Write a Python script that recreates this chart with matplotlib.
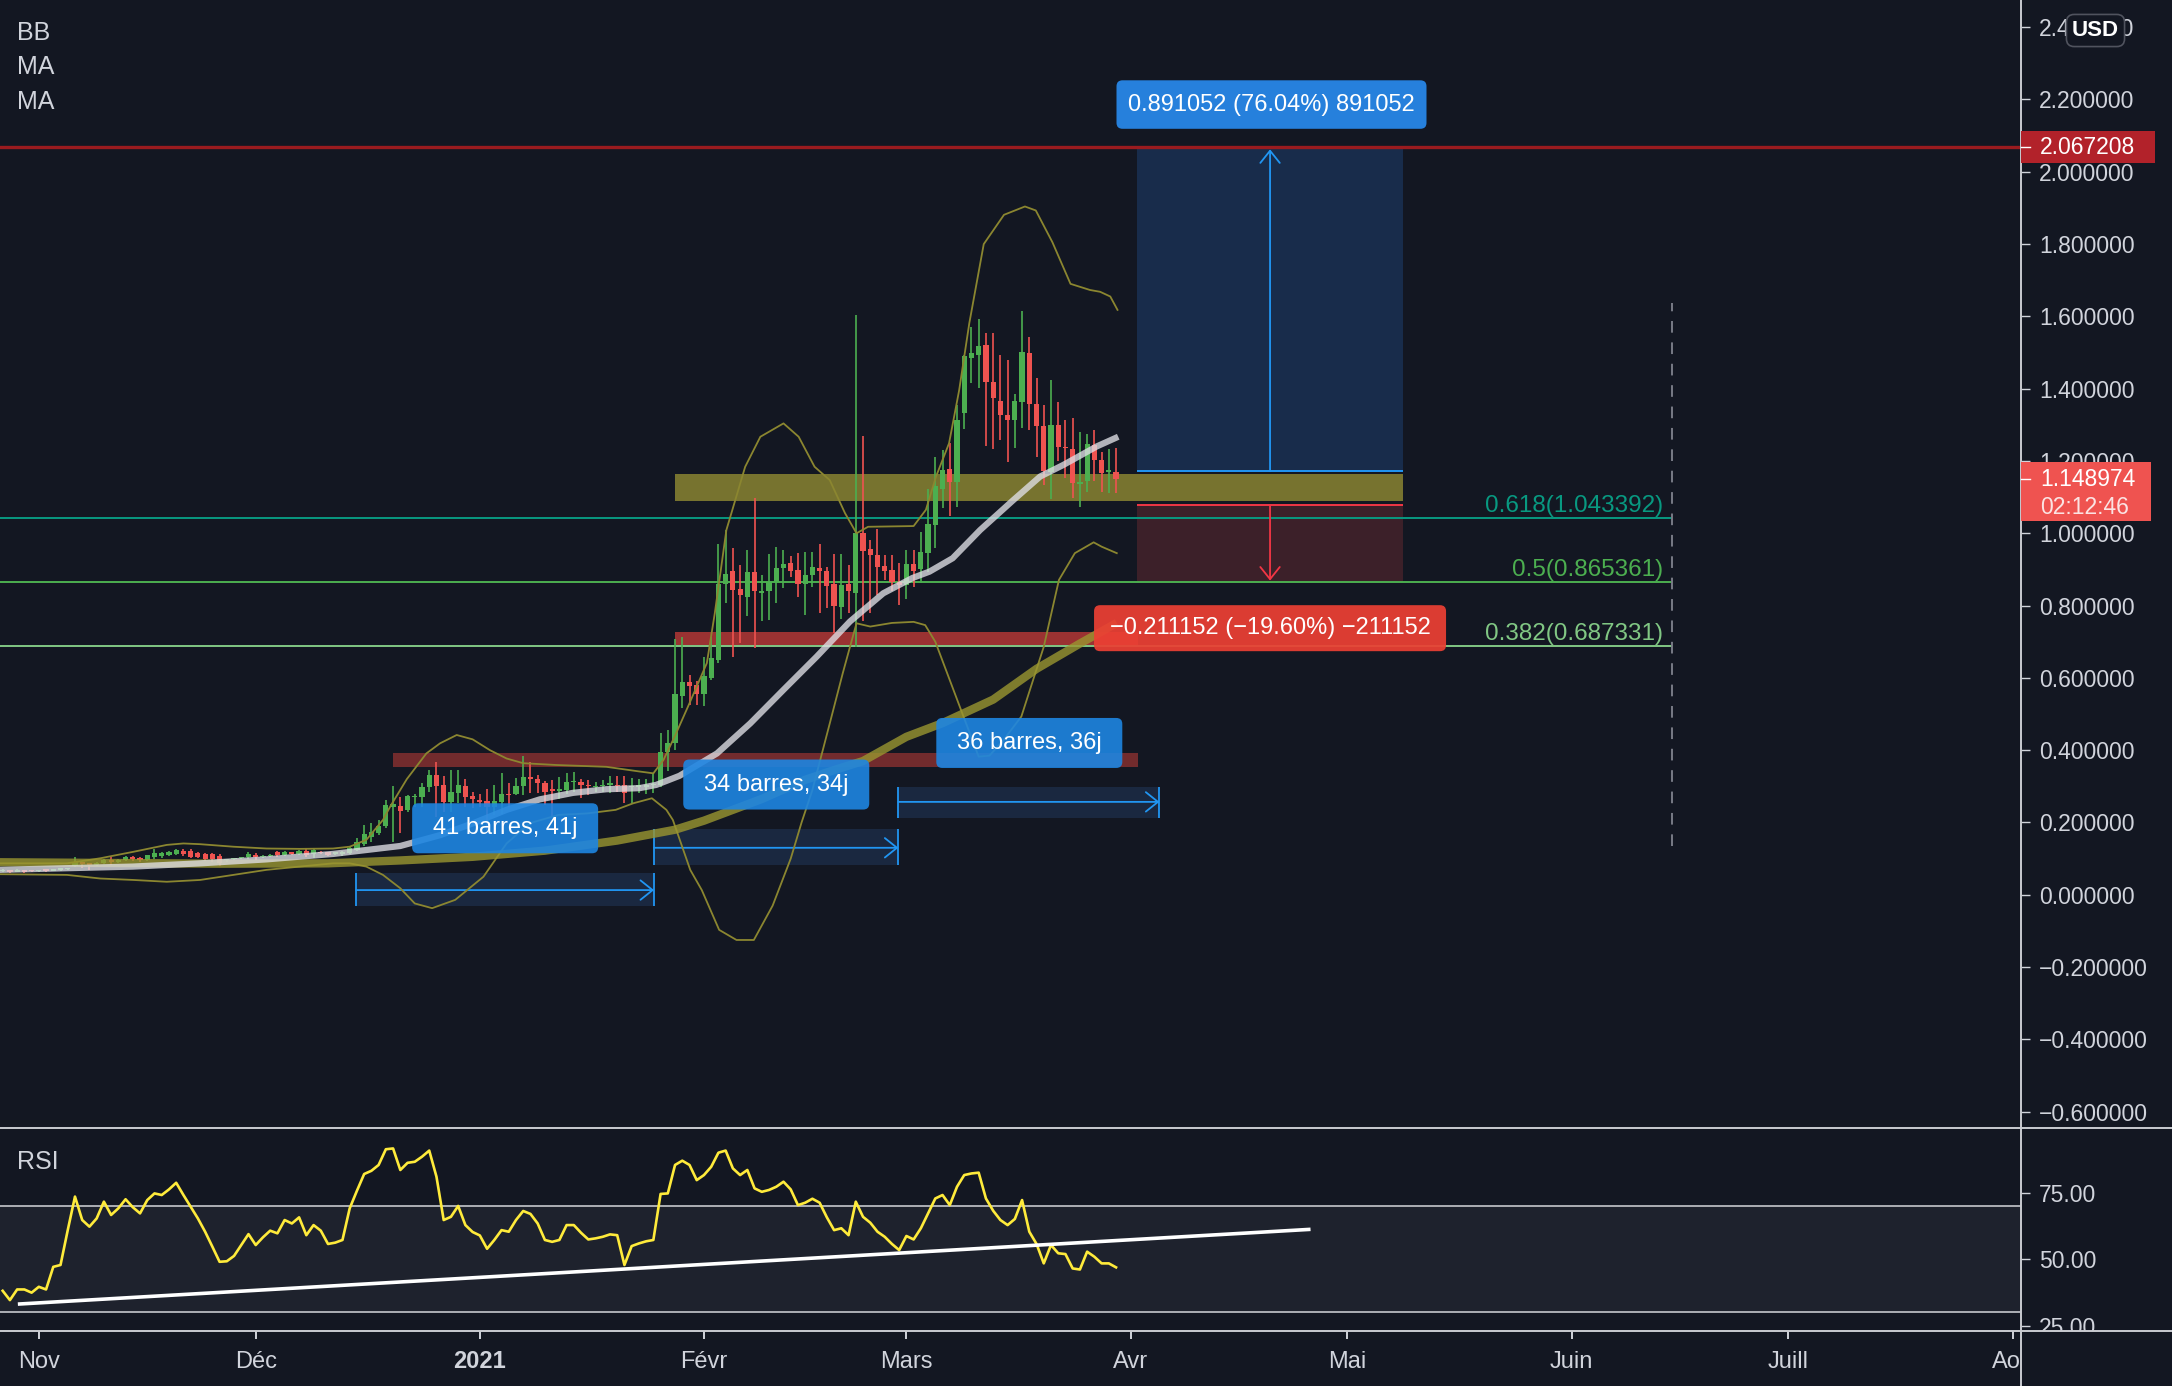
import numpy as np
import matplotlib
matplotlib.use("Agg")
import matplotlib.pyplot as plt
from matplotlib.patches import Rectangle, FancyBboxPatch
from matplotlib.lines import Line2D
from matplotlib.transforms import blended_transform_factory

plt.rcParams['font.family'] = ['Liberation Sans', 'DejaVu Sans']

# ---------------- data ----------------
# x = day index, 0 = 1 Nov 2020 ; first candle = 27 Oct 2020
first_day = -5
opens = [.065,.067,.064,.067,.066,.065,.068,.066,.069,.070,
         .080,.090,.086,.083,.088,.096,.092,.096,.104,.101,
         .096,.104,.107,.110,.113,.122,.122,.116,.113,.113,
         .107,.095,.098,.101,.105,.110,.104,.107,.117,.110,
         .116,.113,.122,.113,.119,.117,.113,.112,.116,.125,
         .140,.160,.171,.191,.244,.246,.235,.270,.270,.299,
         .331,.304,.258,.281,.301,.273,.259,.259,.242,.258,
         .279,.279,.301,.325,.320,.310,.290,.288,.290,.311,
         .313,.304,.297,.301,.304,.304,.304,.297,.299,.299,
         .303,.304,.396,.420,.550,.588,.580,.555,.599,.649,
         .860,.896,.846,.825,.892,.834,.841,.866,.905,.917,
         .898,.860,.885,.905,.897,.860,.797,.860,.836,1.000,
         .957,.940,.910,.899,.866,.857,.915,.900,.946,1.022,
         1.122,1.177,1.143,1.334,1.486,1.493,1.521,1.419,1.366,1.327,
         1.312,1.364,1.500,1.358,1.298,1.170,1.300,1.240,1.232,1.136,
         1.146,1.244,1.203,1.170,1.169]
highs = [.071,.069,.070,.069,.068,.069,.070,.071,.073,.075,
         .105,.092,.089,.091,.099,.104,.098,.107,.107,.105,
         .111,.126,.119,.122,.126,.126,.126,.119,.116,.115,
         .112,.100,.103,.105,.117,.115,.109,.112,.122,.122,
         .118,.124,.126,.128,.121,.119,.119,.122,.133,.156,
         .193,.198,.207,.262,.301,.271,.276,.279,.308,.345,
         .366,.329,.345,.345,.319,.283,.279,.294,.304,.336,
         .308,.322,.384,.366,.331,.316,.318,.325,.336,.341,
         .319,.318,.313,.318,.329,.329,.329,.322,.319,.319,
         .336,.447,.456,.707,.712,.608,.592,.657,.714,.970,
         1.009,.958,.912,.954,1.097,.885,.943,.963,.954,.937,
         .945,.947,.947,.969,.908,.943,.943,.912,1.605,1.269,
         .981,1.011,.940,.940,.917,.954,.954,1.004,1.122,1.212,
         1.230,1.249,1.355,1.493,1.572,1.592,1.555,1.553,1.493,1.478,
         1.385,1.615,1.544,1.429,1.355,1.424,1.362,1.313,1.318,1.279,
         1.275,1.286,1.226,1.232,1.235]
lows = [.062,.061,.062,.061,.062,.063,.063,.065,.067,.068,
        .078,.074,.069,.080,.085,.082,.089,.094,.094,.092,
        .094,.098,.101,.107,.110,.107,.101,.101,.094,.092,
        .081,.092,.096,.099,.098,.096,.101,.105,.105,.107,
        .110,.110,.105,.103,.112,.108,.111,.108,.112,.122,
        .135,.147,.165,.186,.147,.170,.230,.242,.242,.285,
        .216,.230,.230,.253,.244,.239,.242,.179,.221,.223,
        .242,.276,.276,.281,.281,.248,.216,.264,.279,.285,
        .267,.276,.285,.285,.281,.285,.255,.253,.281,.279,
        .281,.299,.343,.400,.516,.525,.525,.523,.594,.640,
        .806,.659,.697,.771,.682,.756,.760,.806,.848,.880,
        .823,.774,.852,.780,.792,.723,.762,.779,.686,.756,
        .779,.829,.871,.839,.802,.817,.852,.862,.894,.960,
        1.069,1.048,1.072,1.288,1.415,1.403,1.242,1.232,1.258,1.198,
        1.235,1.290,1.286,1.212,1.134,1.094,1.201,1.152,1.097,1.072,
        1.115,1.146,1.115,1.111,1.111]
closes = [.068,.064,.067,.064,.065,.067,.066,.069,.070,.073,
          .090,.085,.083,.089,.096,.092,.096,.104,.098,.096,
          .110,.116,.116,.119,.124,.113,.105,.104,.098,.098,
          .087,.098,.101,.103,.112,.104,.107,.110,.110,.119,
          .113,.122,.110,.124,.115,.110,.117,.119,.129,.147,
          .169,.175,.191,.248,.250,.233,.273,.273,.299,.331,
          .301,.258,.283,.304,.271,.264,.257,.242,.259,.279,
          .276,.301,.325,.319,.308,.285,.288,.292,.313,.313,
          .304,.301,.299,.304,.306,.301,.281,.299,.301,.301,
          .306,.396,.420,.555,.588,.578,.555,.605,.654,.860,
          .887,.843,.829,.892,.841,.840,.866,.905,.915,.897,
          .860,.885,.906,.897,.854,.800,.857,.841,1.000,.952,
          .940,.908,.897,.866,.857,.915,.897,.949,1.026,1.131,
          1.175,1.143,1.312,1.490,1.498,1.518,1.419,1.373,1.327,1.312,
          1.366,1.502,1.357,1.298,1.171,1.300,1.240,1.235,1.138,1.141,
          1.247,1.203,1.168,1.172,1.149]
rsi = [38.1,34.6,38.6,38.6,37.4,
       39.6,38.6,47.1,47.8,60.9,73.5,64.7,62.2,65.3,71.6,
       66.6,69.1,72.5,69.5,67.2,72.2,74.7,74.1,76.2,78.7,
       74.1,69.7,65.3,60.3,54.7,49.0,49.2,51.2,55.3,59.4,
       55.3,58.2,60.7,59.7,64.7,63.4,65.7,59.0,62.8,60.7,
       55.7,56.2,57.2,69.1,75.7,82.0,83.2,85.4,91.3,91.6,
       83.5,86.2,86.6,88.5,90.8,81.0,64.7,65.9,70.0,62.8,
       60.2,58.9,53.9,57.2,60.9,60.3,64.7,68.1,67.0,63.4,
       57.2,56.5,57.2,62.8,62.8,59.9,57.4,57.8,58.4,59.3,
       59.0,47.8,54.9,55.9,56.7,57.2,74.5,74.7,85.4,87.0,
       85.4,79.7,81.6,84.7,90.0,90.8,84.1,81.6,83.5,76.6,
       75.3,76.0,77.2,79.1,76.2,70.3,71.2,72.7,71.2,65.7,
       60.9,61.6,59.0,71.6,65.9,63.7,60.3,58.4,55.7,53.4,
       58.7,57.4,61.6,67.2,72.8,74.1,70.3,77.2,81.6,82.2,
       82.5,72.8,68.2,64.7,62.8,65.1,72.2,60.3,55.7,48.4,
       55.3,52.2,51.9,46.5,46.1,52.8,50.9,48.4,48.4,46.9]

# Bollinger bands
bbu_days = [-5.4,3.9,8.5,13.1,17.7,20,22.3,26.9,31.5,36.1,40.7,43,45.3,47.6,48.6,50.9,53.6,55.5,
            57.8,60,62.4,64.7,67,71.6,78.5,83.1,85,86.4,88,90,92.4,93.5,95.1,97.7,99.8,103,105.1,
            107.3,109.4,111.5,113.1,114.7,121,122.7,124.1,125.9,127.3,128.7,130.7,133.5,136.4,
            137.9,140.2,142.7,145.4,146.8,148.2,149.2]
bbu_vals = [0.087,0.087,0.101,0.119,0.138,0.142,0.140,0.133,0.128,0.127,0.128,0.133,0.152,0.207,
            0.244,0.32,0.391,0.419,0.442,0.43,0.40,0.377,0.364,0.359,0.354,0.341,0.336,0.373,0.44,
            0.53,0.641,0.779,1.009,1.184,1.267,1.304,1.267,1.184,1.147,1.056,1.0,1.018,1.020,1.065,
            1.157,1.249,1.396,1.581,1.80,1.881,1.904,1.893,1.805,1.69,1.673,1.668,1.655,1.618]
bbl_days = [-5.4,3.9,8.5,13.1,17.7,22.3,26.9,31.5,36.1,40.7,43,45.3,47.6,50,52,54.4,57.6,61.5,
            64.7,67.9,71.9,75.8,79.8,82.2,84.8,86.8,87.7,90.1,91.7,94.1,96.5,98.9,101.5,104,105.5,
            107,109.4,111.2,112.2,113.1,115,118,121,122.6,124,125.3,127.9,130,131.5,133.5,135.9,
            139,141.1,143.3,145.9,147,149.1]
bbl_vals = [0.057,0.055,0.045,0.041,0.036,0.041,0.055,0.069,0.078,0.087,0.087,0.078,0.055,0.018,
            -0.024,-0.037,-0.014,0.050,0.142,0.198,0.221,0.225,0.235,0.253,0.267,0.235,0.207,0.069,
            0.013,-0.097,-0.125,-0.125,-0.03,0.10,0.20,0.29,0.474,0.613,0.686,0.751,0.742,0.752,
            0.755,0.746,0.70,0.631,0.493,0.382,0.385,0.43,0.493,0.686,0.871,0.945,0.975,0.963,0.945]
# moving averages
ma1_days = [-5.4,13,22.3,31.5,40.7,50,55.5,60.1,64.7,69.3,73.9,78.5,83.1,85.4,88.6,93.8,98.4,103,
            107.6,112.2,116.8,120.8,123.2,126.4,130.2,134.8,138.5,141.7,146.3,149.3]
ma1_vals = [0.069,0.078,0.087,0.098,0.113,0.135,0.165,0.198,0.235,0.264,0.282,0.292,0.295,0.304,
            0.329,0.391,0.474,0.567,0.659,0.756,0.834,0.876,0.894,0.931,1.009,1.092,1.157,1.189,
            1.240,1.267]
ma2_days = [-5.4,10,25,40,50,60,70,80,88,92,96,100,106,110,114,120,125,132,138,144,149.1]
ma2_vals = [0.090,0.088,0.086,0.087,0.095,0.105,0.122,0.150,0.180,0.205,0.235,0.265,0.318,0.345,
            0.370,0.437,0.475,0.54,0.625,0.695,0.752]

resistance_line = 2.067208
last_price = 1.148974
fib_levels = ['0.618', '0.5', '0.382']
fib_values = [1.043392, 0.865361, 0.687331]
fib_end_day = 225.9
fib_span = [0.134, 1.638]

zone_olive = (88.0, 188.7, 1.090, 1.164)
zone_red1 = (88.0, 152.0, 0.691, 0.728)
zone_red2 = (49.0, 152.0, 0.354, 0.391)

pos_days = (151.9, 188.7)
pos_target, pos_entry_long = 2.0672, 1.1718
pos_entry_stop, pos_stop = 1.0773, 0.8661
pos_target_text = "0.891052 (76.04%) 891052"
pos_stop_text = "\u22120.211152 (\u221219.60%) \u2212211152"

range_starts = [43.9, 85.1, 118.9]
range_ends = [85.1, 118.9, 155.0]
range_bottoms = [-0.0307, 0.0824, 0.212]
range_tops = [0.0613, 0.182, 0.299]
range_arrow_y = [0.013, 0.130, 0.257]
range_texts = ["41 barres, 41j", "34 barres, 34j", "36 barres, 36j"]
range_label_y = [0.184, 0.305, 0.420]
range_label_x = [64.5, 102.0, 137.0]

rsi_trend_days = [-2.9, 175.9]
rsi_trend_vals = [33.1, 61.2]

price_ticks = [-0.6, -0.4, -0.2, 0.0, 0.2, 0.4, 0.6, 0.8, 1.0, 1.2, 1.4, 1.6, 1.8, 2.0, 2.2, 2.4]
rsi_ticks = [25, 50, 75]
month_days = [0, 30, 61, 92, 120, 151, 181, 212, 242, 273]
month_labels = ['Nov', 'Déc', '2021', 'Févr', 'Mars', 'Avr', 'Mai', 'Juin', 'Juill', 'Aoû']

# ---------------- style ----------------
BG = '#131722'
TXT = '#d1d4dc'
GREEN = '#4caf50'
RED = '#ef5350'
BLUE = '#2196f3'
FIB_COLORS = ['#089981', '#4caf50', '#81c784']

W, H = 2172.0, 1386.0
PX, YSEP, YTIME = 2020.5, 1127.7, 1330.7
X0, X1 = -5.37, 274.1

fig = plt.figure(figsize=(W / 100, H / 100), dpi=100, facecolor=BG)
ax = fig.add_axes([0, 1 - YSEP / H, PX / W, YSEP / H])
ax_r = fig.add_axes([0, 1 - YTIME / H, PX / W, (YTIME - YSEP) / H])
for a in (ax, ax_r):
    a.set_facecolor(BG)
    a.set_xlim(X0, X1)
    for s in a.spines.values():
        s.set_visible(False)
    a.tick_params(axis='x', bottom=False, labelbottom=False)
    a.yaxis.tick_right()
    a.tick_params(axis='y', left=False, right=True, direction='out', length=6.5,
                  width=1.0, colors=TXT, labelsize=16.5, pad=7)
ax.set_ylim(-0.6443, 2.4752)
ax_r.set_ylim(23.1, 99.4)

ax.set_yticks(price_ticks)
ax.set_yticklabels([f"{v:.6f}".replace('-', '\u2212') for v in price_ticks])
ax_r.set_yticks(rsi_ticks)
ax_r.set_yticklabels([f"{v:.2f}" for v in rsi_ticks])

p0 = ax.transData.transform((0, 0))
p1 = ax.transData.transform((1, 1))
px_day = p1[0] - p0[0]
px_price = p1[1] - p0[1]


def label_box(a, xc, yc, wpx, hpx, text, fc, alpha=1.0, z=12, fs=17):
    w = wpx / px_day
    h = hpx / px_price
    box = FancyBboxPatch((xc - w / 2, yc - h / 2), w, h,
                         boxstyle=f"round,pad=0,rounding_size={6 / px_day}",
                         mutation_aspect=px_day / px_price,
                         fc=fc, ec='none', alpha=alpha, zorder=z)
    a.add_patch(box)
    a.text(xc, yc, text, ha='center', va='center', color='white', fontsize=fs, zorder=z + 1)


days = first_day + np.arange(len(closes))
o = np.array(opens); hi = np.array(highs); lo = np.array(lows); c = np.array(closes)

# zones
for (d0, d1, y0, y1), fc in [(zone_olive, '#77732f'), (zone_red1, '#9a3232'), (zone_red2, '#722b2d')]:
    ax.add_patch(Rectangle((d0, y0), d1 - d0, y1 - y0, fc=fc, ec='none', zorder=2))

# long position tool
ax.add_patch(Rectangle((pos_days[0], pos_entry_long), pos_days[1] - pos_days[0],
                       pos_target - pos_entry_long, fc='#182c4b', ec='none', zorder=1.5))
ax.add_patch(Rectangle((pos_days[0], pos_stop), pos_days[1] - pos_days[0],
                       pos_entry_stop - pos_stop, fc='#3c2029', ec='none', zorder=1.5))
ax.hlines(pos_entry_long, pos_days[0], pos_days[1], colors=BLUE, lw=1.4, zorder=2.5)
ax.hlines(pos_entry_stop, pos_days[0], pos_days[1], colors='#f23645', lw=1.4, zorder=2.5)
xm = (pos_days[0] + pos_days[1]) / 2
ax.annotate('', xy=(xm, pos_target - 0.005), xytext=(xm, pos_entry_long),
            arrowprops=dict(arrowstyle='->,head_length=0.25,head_width=0.2', color=BLUE,
                            lw=1.3, mutation_scale=35, shrinkA=0, shrinkB=0), zorder=3)
ax.annotate('', xy=(xm, pos_stop + 0.003), xytext=(xm, pos_entry_stop),
            arrowprops=dict(arrowstyle='->,head_length=0.25,head_width=0.2', color='#f23645',
                            lw=1.3, mutation_scale=35, shrinkA=0, shrinkB=0), zorder=3)

# fib lines
for lvl, v, col in zip(fib_levels, fib_values, FIB_COLORS):
    ax.hlines(v, X0, fib_end_day, colors=col, lw=1.4, zorder=2.6)
    ax.text(fib_end_day - 1.2, v + 6 / px_price, f"{lvl}({v:.6f})", ha='right', va='baseline',
            color=col, fontsize=17.5, zorder=7)
ax.vlines(fib_end_day, fib_span[0], fib_span[1], colors='#787b86', lw=1.4,
          linestyles=(0, (6, 5)), zorder=2.6)

# resistance line
ax.axhline(resistance_line, color='#9a1b1f', lw=2.4, zorder=4)

# date ranges
for d0, d1, yb, yt, ya in zip(range_starts, range_ends, range_bottoms, range_tops, range_arrow_y):
    ax.add_patch(Rectangle((d0, yb), d1 - d0, yt - yb, fc='#1b2a42', ec='none', alpha=0.95, zorder=2))
    ax.vlines([d0, d1], yb, yt, colors=BLUE, lw=1.3, zorder=2.7)
    ax.annotate('', xy=(d1, ya), xytext=(d0, ya),
                arrowprops=dict(arrowstyle='->,head_length=0.25,head_width=0.2', color=BLUE,
                                lw=1.3, mutation_scale=35, shrinkA=0, shrinkB=0), zorder=2.7)

# candles
col = np.where(c >= o, GREEN, RED)
ax.vlines(days, lo, hi, colors=col, lw=1.2, zorder=3)
ax.bar(days, np.maximum(np.abs(c - o), 0.004), bottom=np.minimum(o, c), width=0.72,
       color=col, linewidth=0, zorder=3)

# indicators
ax.plot(bbu_days, bbu_vals, color='#8b8630', lw=1.3, zorder=5)
ax.plot(bbl_days, bbl_vals, color='#8b8630', lw=1.3, zorder=5)
ax.plot(ma2_days, ma2_vals, color='#9a9630', lw=6, alpha=0.8, zorder=6, solid_capstyle='butt')
ax.plot(ma1_days, ma1_vals, color='#e0e0e6', lw=4.5, alpha=0.78, zorder=6, solid_capstyle='butt')

# labels
for xc, yc, t in zip(range_label_x, range_label_y, range_texts):
    label_box(ax, xc, yc, 186, 50, t, '#1e86e2', alpha=0.9)
label_box(ax, xm + 0.2, 2.186, 310, 48.5, pos_target_text, '#2680dc')
label_box(ax, xm, 0.7375, 352, 46, pos_stop_text, '#eb4034', alpha=0.93)

# RSI pane
ax_r.axhspan(30, 70, fc='#1e222d', ec='none', zorder=0)
ax_r.axhline(70, color='#b8bac0', lw=1.3, zorder=1)
ax_r.axhline(30, color='#b8bac0', lw=1.3, zorder=1)
ax_r.plot(days, rsi, color='#ffeb3b', lw=1.9, zorder=3)
ax_r.plot(rsi_trend_days, rsi_trend_vals, color='white', lw=2.6, zorder=4, solid_capstyle='butt')

# time axis
ax_t = fig.add_axes([0, 0, PX / W, 1 - YTIME / H])
ax_t.set_xlim(X0, X1)
ax_t.set_ylim(0, 1)
ax_t.axis('off')
ax_t.vlines(month_days, 1 - 8.7 / (H - YTIME), 1.0, colors=TXT, lw=1.4, clip_on=False)
for d, lab in zip(month_days, month_labels):
    ax_t.text(d, 0.44, lab, ha='center', va='center', fontsize=17, color=TXT, clip_on=True,
              fontweight='bold' if lab == '2021' else 'normal')

cover = fig.add_axes([PX / W, 0, 1 - PX / W, 1 - YTIME / H])
cover.set_facecolor(BG)
cover.set_xticks([]); cover.set_yticks([])
for s in cover.spines.values():
    s.set_visible(False)

# separators
SEP = '#c9cbd1'
fig.add_artist(Line2D([0, 1], [1 - YSEP / H] * 2, transform=fig.transFigure, color=SEP, lw=1.4, zorder=2))
fig.add_artist(Line2D([0, 1], [1 - YTIME / H] * 2, transform=fig.transFigure, color=SEP, lw=1.4, zorder=2))
fig.add_artist(Line2D([PX / W] * 2, [0, 1], transform=fig.transFigure, color=SEP, lw=1.4, zorder=2))

# price axis badges
bt = blended_transform_factory(fig.transFigure, ax.transData)
hb = 16 / px_price
fig.add_artist(Rectangle((PX / W, resistance_line - hb), 134 / W, 2 * hb, transform=bt,
                         fc='#b2222a', ec='none', zorder=2.5))
fig.text(2040 / W, resistance_line, f"{resistance_line:.6f}", transform=bt, color='white',
         fontsize=16.5, va='center', ha='left', zorder=3)
top_b = last_price + 17 / px_price
bot_b = last_price - 42 / px_price
fig.add_artist(Rectangle((PX / W, bot_b), 130 / W, top_b - bot_b, transform=bt,
                         fc='#ef5350', ec='none', zorder=2.5))
fig.text(2040 / W, last_price, f"{last_price:.6f}", transform=bt, color='white',
         fontsize=16.5, va='center', ha='left', zorder=3)
fig.text(2040 / W, last_price - 28 / px_price, "02:12:46", transform=bt, color='#fbe3e3',
         fontsize=16.5, va='center', ha='left', zorder=3)
for v in (resistance_line, last_price):
    fig.add_artist(Line2D([PX / W, (PX + 9) / W], [v, v], transform=bt, color='white', lw=1.0, zorder=3))

fig.text(2095.5 / W, 1 - 30.5 / H, 'USD', ha='center', va='center', fontsize=16, color='white',
         fontweight='bold',
         bbox=dict(boxstyle='round,pad=0.25,rounding_size=0.35', fc=BG, ec='#50535e', lw=1.2))

# legends
for t, y in [('BB', 33), ('MA', 67.5), ('MA', 102), ('RSI', 1162)]:
    fig.text(16.6 / W, 1 - y / H, t, color=TXT, fontsize=18, va='center', ha='left')

fig.savefig('out.png', dpi=100, facecolor=BG)
